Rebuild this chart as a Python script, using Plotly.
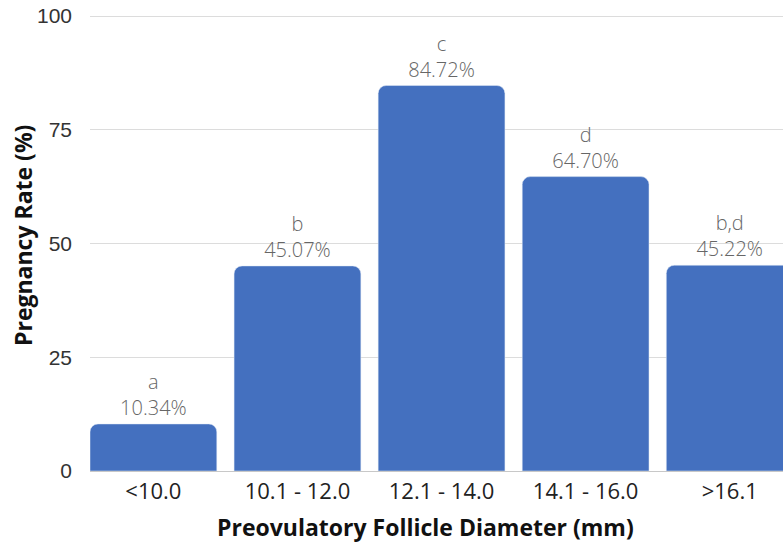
import plotly.graph_objects as go

categories = ["<10.0", "10.1 - 12.0", "12.1 - 14.0", "14.1 - 16.0", ">16.1"]
rates = [10.34, 45.07, 84.72, 64.70, 45.22]
letters = ["a", "b", "c", "d", "b,d"]
y_ticks = [0, 25, 50, 75, 100]

labels = [f"{l}<br>{v:.2f}%" for l, v in zip(letters, rates)]

W, H = 783, 542
L, T, B = 90, 12, 71
PW, PH = W - L, H - T - B
PX_PER_UNIT = 4.55
Y_TOP = PH / PX_PER_UNIT

fig = go.Figure(go.Bar(
    x=list(range(len(categories))),
    y=rates,
    text=labels,
    textposition="outside",
    textfont=dict(family="Open Sans", size=20, color="#666666", weight=300),
    marker=dict(color="#4470BF", cornerradius=8),
    cliponaxis=False,
    width=0.88,
))

fig.update_layout(
    width=W, height=H,
    margin=dict(l=L, r=0, t=T, b=B, pad=0, autoexpand=False),
    plot_bgcolor="white", paper_bgcolor="white",
    showlegend=False,
    uniformtext=dict(mode=False),
    xaxis=dict(
        range=[-0.44, 4.37],
        tickmode="array",
        tickvals=list(range(len(categories))),
        ticktext=categories,
        tickfont=dict(family="Open Sans", size=22, color="#222222"),
        showgrid=False,
        showline=True, linecolor="#c8c8c8", linewidth=1,
        ticks="", ticklabelstandoff=1,
        automargin=False,
    ),
    yaxis=dict(
        range=[0, Y_TOP],
        tickmode="array",
        tickvals=y_ticks,
        tickfont=dict(family="Liberation Sans", size=21, color="#333333"),
        showgrid=True, gridcolor="#dcdcdc", gridwidth=1,
        zeroline=False,
        ticks="", ticklabelstandoff=17,
        ticklabeloverflow="allow",
        automargin=False,
    ),
    annotations=[
        dict(text="<b>Pregnancy Rate (%)</b>", xref="paper", yref="paper",
             x=(23 - L) / PW, y=(T + PH - 236) / PH, xanchor="center", yanchor="middle",
             showarrow=False, textangle=-90,
             font=dict(family="Open Sans", size=23, color="#111111")),
        dict(text="<b>Preovulatory Follicle Diameter (mm)</b>", xref="paper", yref="paper",
             x=(425 - L) / PW, y=-(527 - (T + PH)) / PH, xanchor="center", yanchor="middle",
             showarrow=False,
             font=dict(family="Open Sans", size=23, color="#111111")),
    ],
)

fig.write_html("out.html", config={"displayModeBar": False},
               post_script="document.body.style.margin='0';")
